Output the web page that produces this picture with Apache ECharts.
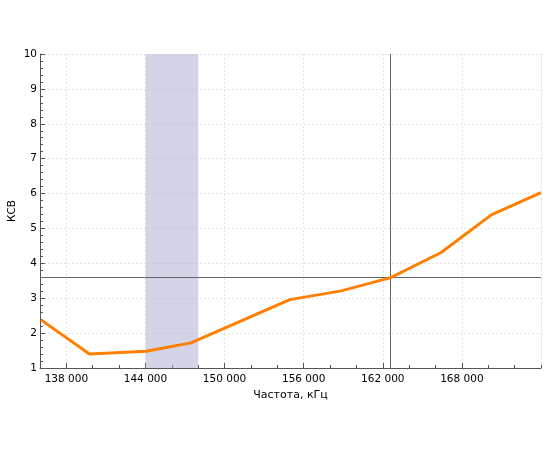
<!DOCTYPE html>
<html><head><meta charset="utf-8">
<script src="https://cdn.jsdelivr.net/npm/echarts@6/dist/echarts.min.js"></script>
<style>html,body{margin:0;padding:0;background:#fff}#c{width:550px;height:450px}</style>
</head><body><div id="c"></div>
<script>
var freq = [136080, 139750, 144050, 147450, 154950, 158850, 162600, 166430, 170230, 174000];
var swr  = [2.38, 1.40, 1.48, 1.72, 2.96, 3.21, 3.59, 4.31, 5.39, 6.03];
var xMajorTicks = [138000, 144000, 150000, 156000, 162000, 168000];
var xMinorTicks = [136000, 140000, 142000, 146000, 148000, 152000, 154000, 158000, 160000, 164000, 166000, 170000, 172000, 174000];
var bandRange = [144000, 148000];
var cursorX = 162600;
var cursorY = 3.6;
var xRange = [136000, 174000];
var yRange = [1, 10];
var xTitle = 'Частота, кГц';
var yTitle = 'КСВ';

var font = 'DejaVu Sans';
var chart = echarts.init(document.getElementById('c'), null, {renderer:'canvas'});
function fmt(v){ var s = String(Math.round(v)); return s.replace(/\B(?=(\d{3})+(?!\d))/g, ' '); }
chart.setOption({
  animation:false,
  grid:{left:40, right:9, top:54, bottom:82, containLabel:false, outerBoundsMode:'none'},
  xAxis:[{
    type:'value', min:xRange[0], max:xRange[1],
    name:xTitle, nameLocation:'middle', nameGap:22, nameMoveOverlap:false,
    nameTextStyle:{fontFamily:font, fontSize:11, color:'#000'},
    axisLine:{show:true, lineStyle:{color:'#555', width:1}},
    axisTick:{show:true, inside:true, length:5, customValues:xMajorTicks, lineStyle:{color:'#555'}},
    axisLabel:{customValues:xMajorTicks, formatter:fmt, fontFamily:font, fontSize:10.5, color:'#000', margin:6},
    splitLine:{show:true, lineStyle:{color:'#e4e4e4', type:[2,2], width:1}}
  },{
    type:'value', min:xRange[0], max:xRange[1], position:'bottom',
    axisLine:{show:false},
    axisTick:{show:true, inside:true, length:3, customValues:xMinorTicks, lineStyle:{color:'#555'}},
    axisLabel:{show:false},
    splitLine:{show:false}
  }],
  yAxis:[{
    type:'value', min:yRange[0], max:yRange[1], interval:1,
    name:yTitle, nameLocation:'middle', nameGap:22, nameRotate:90, nameMoveOverlap:false,
    nameTextStyle:{fontFamily:font, fontSize:10.5, color:'#000'},
    axisLine:{show:true, lineStyle:{color:'#555', width:1}},
    axisTick:{show:true, inside:true, length:5, lineStyle:{color:'#555'}},
    minorTick:{show:true, splitNumber:5, length:3, lineStyle:{color:'#555'}},
    axisLabel:{fontFamily:font, fontSize:10.5, color:'#000', margin:3},
    splitLine:{show:true, lineStyle:{color:'#e4e4e4', type:[2,2], width:1}}
  },{
    type:'value', min:yRange[0], max:yRange[1], position:'right',
    axisLine:{show:true, lineStyle:{color:'#e4e4e4', type:[2,2]}},
    axisTick:{show:false}, axisLabel:{show:false}, splitLine:{show:false}
  }],
  series:[{
    type:'line', xAxisIndex:0, yAxisIndex:0,
    data: freq.map(function(f,i){return [f, swr[i]];}),
    showSymbol:false, symbol:'none', clip:true,
    lineStyle:{color:'#ff8000', width:3},
    itemStyle:{color:'#ff8000'},
    z:5,
    markArea:{silent:true, itemStyle:{color:'rgba(168,172,208,0.5)'}, data:[[{xAxis:bandRange[0]},{xAxis:bandRange[1]}]]},
    markLine:{silent:true, symbol:['none','none'], label:{show:false},
      lineStyle:{color:'#666', width:1, type:'solid'},
      data:[{xAxis:cursorX},{yAxis:cursorY}]}
  }]
});
</script></body></html>
